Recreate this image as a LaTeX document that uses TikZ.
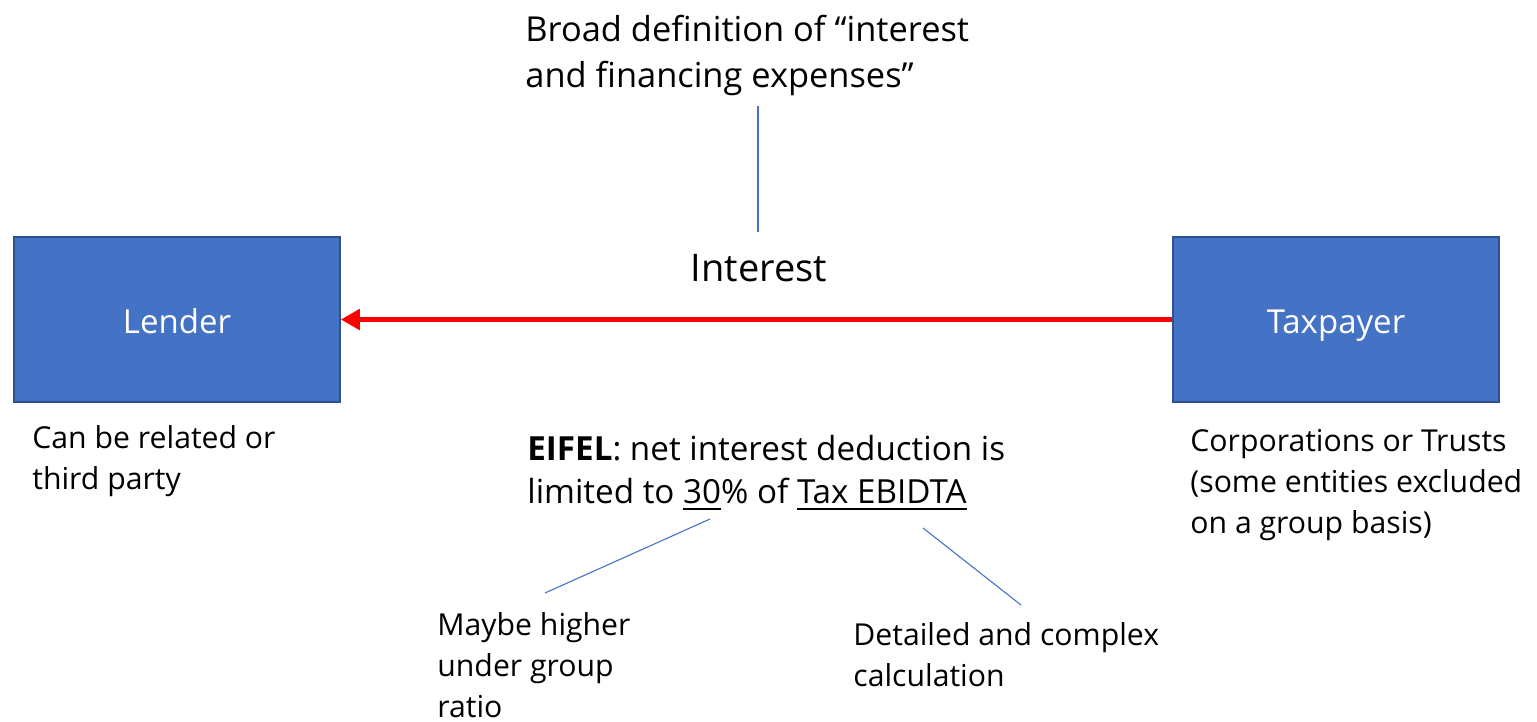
\documentclass[tikz,border=0pt]{standalone}
\usepackage{fontspec}
\setmainfont{Open Sans}
\usetikzlibrary{arrows.meta}

\definecolor{boxfill}{HTML}{4472C4}
\definecolor{boxline}{HTML}{2F528F}
\definecolor{linkblue}{HTML}{4472C4}

% underline drawn at a fixed depth below the baseline
\newcommand\ulined[1]{\setbox0\hbox{#1}\rlap{\rule[-3.6pt]{\wd0}{1.1pt}}\box0}

% multi-line notes are placed by the baseline of their last line
\tikzset{
  party/.style={draw=boxline, line width=0.75pt, fill=boxfill, text=white,
    minimum width=163pt, minimum height=82.5pt, inner sep=0pt,
    text height=17pt, text depth=3.5pt,
    font=\fontsize{16.5pt}{20pt}\selectfont},
  note/.style={anchor=base west, align=left, inner sep=0pt,
    font=\fontsize{15.1pt}{20.5pt}\selectfont},
  bignote/.style={anchor=base west, align=left, inner sep=0pt,
    font=\fontsize{17.2pt}{23pt}\selectfont},
  flow/.style={draw=red, line width=2.5pt,
    -{Triangle[length=9.5pt,width=10pt]}},
  link/.style={draw=linkblue, line width=0.75pt},
  thinlink/.style={draw=linkblue, line width=0.55pt},
}

\begin{document}
\begin{tikzpicture}[x=0.5pt, y=-0.5pt]
  \useasboundingbox (0,0) rectangle (1537,722);

  % the two parties
  \node[party] (lender) at (177,319.5) {Lender};
  \node[party] (taxpayer) at (1336,319.5) {Taxpayer};

  % interest payment
  \draw[flow] (taxpayer.west) -- (lender.east);
  \node[anchor=base, inner sep=0pt, font=\fontsize{19pt}{23pt}\selectfont]
    (interest) at (759,281) {Interest};

  % definition note above
  \node[bignote] (broad) at (525,88)
    {Broad definition of “interest\\and financing expenses”};
  \coordinate (defend) at (758,106);
  \coordinate (intend) at (758,232);
  \draw[link] (defend) -- (intend);

  % notes under the parties
  \node[note] (lendnote) at (32,489) {Can be related or\\third party};
  \node[note] (taxnote) at (1190,533)
    {Corporations or Trusts\\(some entities excluded\\on a group basis)};

  % EIFEL rule
  \node[anchor=base west, align=left, inner sep=0pt,
        font=\fontsize{16.6pt}{21.5pt}\selectfont] (eifel) at (527,503)
    {\textbf{EIFEL}: net interest deduction is\\
     limited to \ulined{30}\% of \ulined{Tax EBIDTA}};

  % remarks on the rule
  \node[note] (ratio) at (437,717) {Maybe higher\\under group\\ratio};
  \node[note] (calc) at (853,686) {Detailed and complex\\calculation};

  \coordinate (pct) at (710,519);
  \coordinate (ratiotop) at (545,593);
  \coordinate (ebidta) at (923,528);
  \coordinate (calctop) at (1021,605);
  \draw[thinlink] (pct) -- (ratiotop);
  \draw[thinlink] (ebidta) -- (calctop);
\end{tikzpicture}
\end{document}
